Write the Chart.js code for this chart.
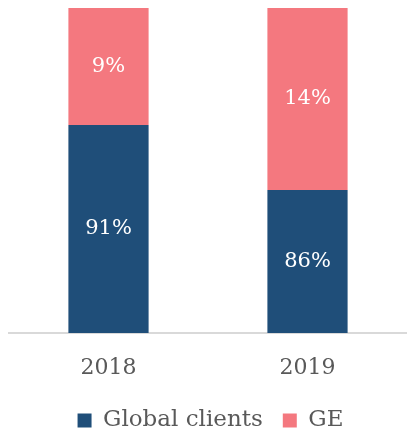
<!DOCTYPE html>
<html>
<head>
<meta charset="utf-8">
<script src="https://cdn.jsdelivr.net/npm/chart.js@4"></script>
<style>
  html, body { margin: 0; padding: 0; background: #fff; }
  #wrap { width: 407px; height: 432px; }
</style>
</head>
<body>
<div id="wrap"><canvas id="shareChart"></canvas></div>
<script>
var years = ['2018', '2019'];
var globalClients = [91, 86];
var ge = [9, 14];
var axisMin = 75; // value axis starts at 75%, not 0

// draws the % labels in the middle of the visible part of each bar piece
var barLabels = {
    id: 'barLabels',
    afterDatasetsDraw: function (chart) {
        var c = chart.ctx;
        var area = chart.chartArea;
        c.save();
        c.fillStyle = '#ffffff';
        c.font = '21px "DejaVu Serif", serif';
        c.textAlign = 'center';
        c.textBaseline = 'middle';
        chart.data.datasets.forEach(function (ds, i) {
            chart.getDatasetMeta(i).data.forEach(function (bar, j) {
                var top = Math.max(Math.min(bar.y, bar.base), area.top);
                var bottom = Math.min(Math.max(bar.y, bar.base), area.bottom);
                c.fillText(ds.data[j] + '%', bar.x, (top + bottom) / 2);
            });
        });
        c.restore();
    }
};

var ctx = document.getElementById('shareChart').getContext('2d');
var shareChart = new Chart(ctx, {
    type: 'bar',
    data: {
        labels: years,
        datasets: [{
            label: 'Global clients',
            data: globalClients,
            backgroundColor: '#1F4E79'
        }, {
            label: 'GE',
            data: ge,
            backgroundColor: '#F4787F'
        }]
    },
    options: {
        responsive: true,
        maintainAspectRatio: false,
        animation: false,
        layout: { padding: { top: 8, left: 9, right: -5, bottom: -10 } },
        datasets: {
            bar: { barPercentage: 0.403, categoryPercentage: 1 }
        },
        scales: {
            x: {
                stacked: true,
                grid: { display: false },
                border: { display: true, color: '#d9d9d9', width: 2 },
                ticks: {
                    color: '#595959',
                    font: { family: '"DejaVu Serif", serif', size: 22 },
                    padding: 14
                },
                afterFit: function (scale) {
                    scale.height = 56;
                }
            },
            y: {
                stacked: true,
                display: false,
                min: axisMin,
                max: 100
            }
        },
        plugins: {
            legend: {
                position: 'bottom',
                labels: {
                    color: '#595959',
                    font: { family: '"DejaVu Serif", serif', size: 23 },
                    boxWidth: 14,
                    boxHeight: 14,
                    padding: 20
                }
            },
            tooltip: { enabled: false }
        }
    },
    plugins: [barLabels]
});
</script>
</body>
</html>
